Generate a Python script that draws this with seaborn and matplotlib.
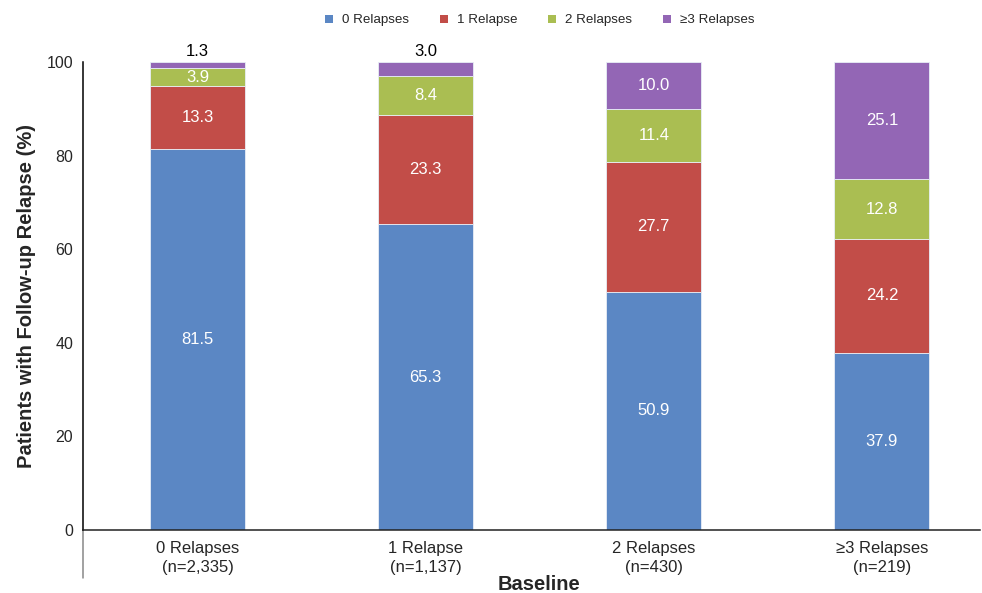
import matplotlib
matplotlib.use("Agg")
import matplotlib.pyplot as plt
from matplotlib.patches import Patch
import numpy as np
import pandas as pd
import seaborn as sns

# Baseline groups (x axis) and follow-up relapse shares (%)
categories = ["0 Relapses\n(n=2,335)", "1 Relapse\n(n=1,137)",
              "2 Relapses\n(n=430)", "≥3 Relapses\n(n=219)"]
series_names = ["0 Relapses", "1 Relapse", "2 Relapses", "≥3 Relapses"]
relapse0 = [81.5, 65.3, 50.9, 37.9]
relapse1 = [13.3, 23.3, 27.7, 24.2]
relapse2 = [3.9, 8.4, 11.4, 12.8]
relapse3 = [1.3, 3.0, 10.0, 25.1]
colors = ["#5B87C4", "#C24D48", "#AABE52", "#9366B5"]
yticks = [0, 20, 40, 60, 80, 100]

sns.set_theme(style="white")
plt.rcParams["font.family"] = ["Liberation Sans", "DejaVu Sans"]

fig = plt.figure(figsize=(9.82, 5.93), dpi=100)
ax = fig.add_axes([83 / 982, 1 - 530 / 593, 897 / 982, 468 / 593])

series = [relapse0, relapse1, relapse2, relapse3]
bottom = np.zeros(len(categories))
for name, vals, col in zip(series_names, series, colors):
    df = pd.DataFrame({"group": categories, "pct": vals})
    sns.barplot(data=df, x="group", y="pct", color=col, width=0.416,
                bottom=bottom.copy(), edgecolor="#E8EEF6", linewidth=0.6,
                ax=ax, saturation=1)
    for i, v in enumerate(vals):
        if name == "≥3 Relapses" and v < 5:
            ax.text(i, bottom[i] + v + 0.6, f"{v:.1f}", ha="center",
                    va="bottom", color="black", fontsize=12)
        else:
            ax.text(i, bottom[i] + v / 2, f"{v:.1f}", ha="center",
                    va="center", color="white", fontsize=12)
    bottom += np.array(vals)

ax.set_xlim(-0.502, 3.43)
ax.set_ylim(0, 100)
ax.set_yticks(yticks)
ax.set_yticklabels([str(t) for t in yticks], fontsize=11.5)
ax.tick_params(axis="both", length=0)
ax.tick_params(axis="y", pad=7)
ax.tick_params(axis="x", pad=8, labelsize=12)
for lab in ax.get_xticklabels():
    lab.set_linespacing(1.3)

for s in ["top", "right"]:
    ax.spines[s].set_visible(False)
ax.spines["left"].set_color("black")
ax.spines["left"].set_linewidth(1.1)
ax.spines["bottom"].set_color("#222222")
ax.spines["bottom"].set_linewidth(1.1)
# left axis line continues down past the baseline
ax.plot([0, 0], [0, -48 / 468], transform=ax.transAxes, clip_on=False,
        color="#888888", lw=1.1)

ax.set_xlabel("Baseline", fontsize=14.5, fontweight="bold", va="center")
ax.xaxis.set_label_coords(0.508, -55 / 468)
ax.set_ylabel("Patients with Follow-up Relapse (%)", fontsize=14.5,
              fontweight="bold", labelpad=8)

handles = [Patch(facecolor=c, edgecolor="none") for c in colors]
fig.legend(handles, series_names, loc="center", bbox_to_anchor=(540 / 982, 1 - 20.5 / 593),
           ncol=4, frameon=False, fontsize=9.6, handlelength=0.58, handleheight=0.58,
           handletextpad=0.7, columnspacing=2.3)

fig.savefig("out.png", dpi=100)
